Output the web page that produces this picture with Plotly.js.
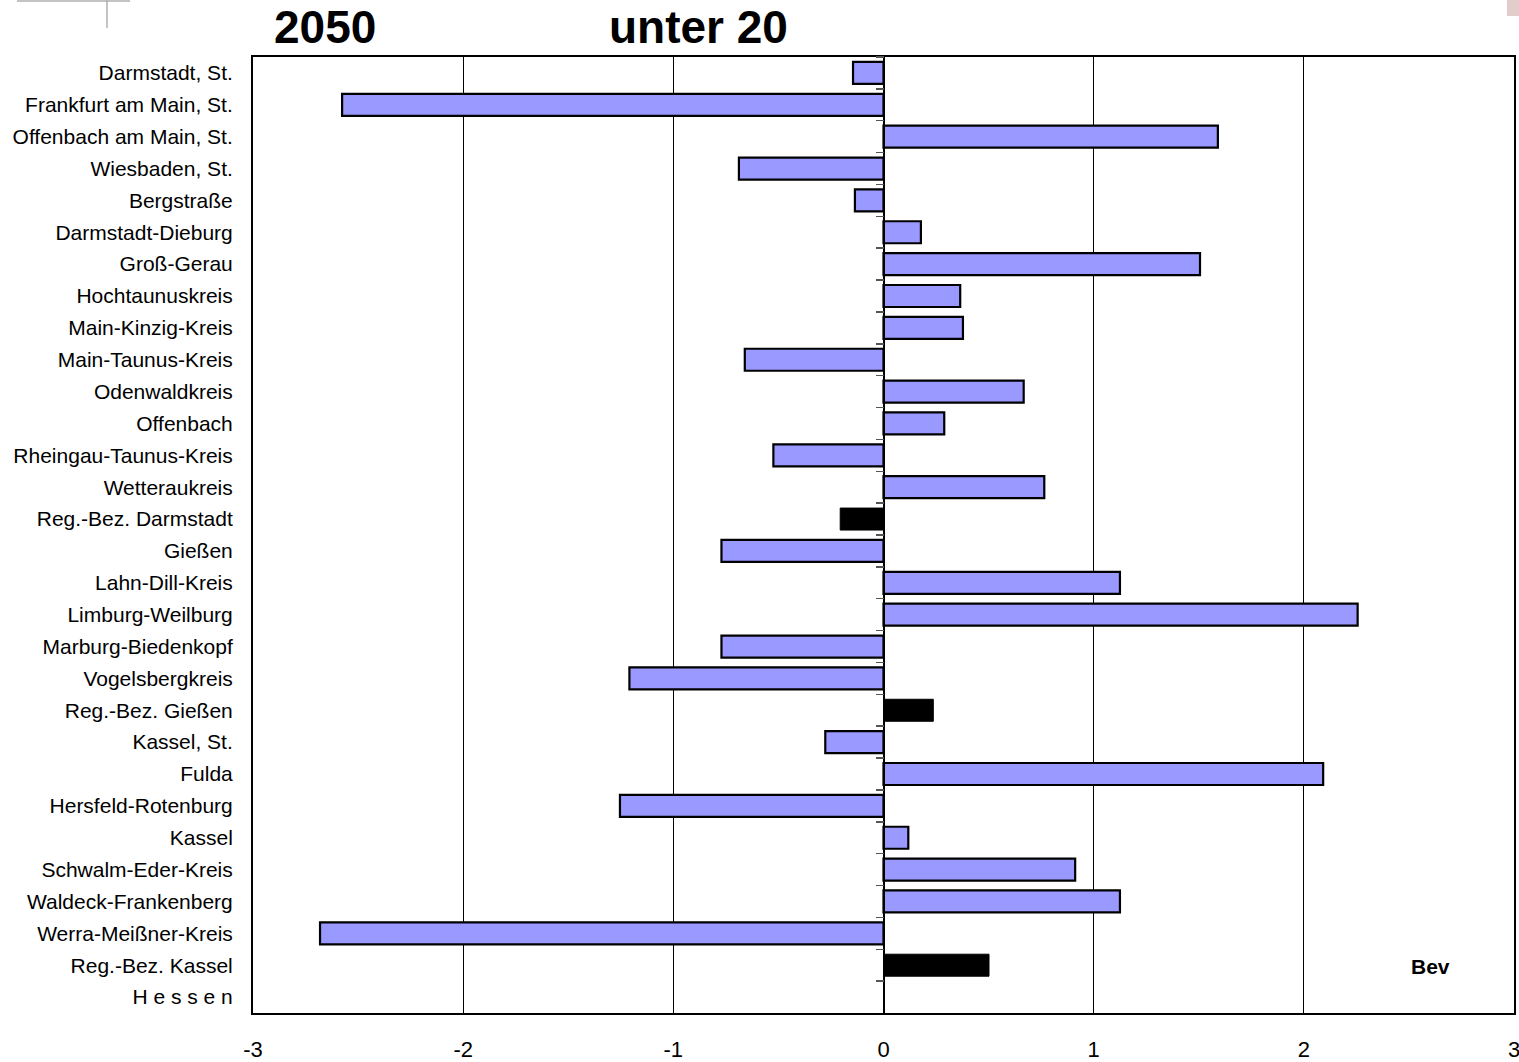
<!DOCTYPE html>
<html>
<head>
<meta charset="utf-8">
<script src="https://cdn.plot.ly/plotly-3.0.1.min.js"></script>
<style>
  html, body { margin: 0; padding: 0; background: #fff; }
  #chart { width: 1519px; height: 1062px; }
</style>
</head>
<body>
<div id="chart"></div>
<script>
// ---- data ----
const categories = [
  "Darmstadt, St.", "Frankfurt am Main, St.", "Offenbach am Main, St.", "Wiesbaden, St.",
  "Bergstraße", "Darmstadt-Dieburg", "Groß-Gerau", "Hochtaunuskreis", "Main-Kinzig-Kreis",
  "Main-Taunus-Kreis", "Odenwaldkreis", "Offenbach", "Rheingau-Taunus-Kreis", "Wetteraukreis",
  "Reg.-Bez. Darmstadt", "Gießen", "Lahn-Dill-Kreis", "Limburg-Weilburg", "Marburg-Biedenkopf",
  "Vogelsbergkreis", "Reg.-Bez. Gießen", "Kassel, St.", "Fulda", "Hersfeld-Rotenburg", "Kassel",
  "Schwalm-Eder-Kreis", "Waldeck-Frankenberg", "Werra-Meißner-Kreis", "Reg.-Bez. Kassel",
  "H e s s e n"
];
// district values (null for regional totals)
const kreisValues = [
  -0.145, -2.576, 1.591, -0.688,
  -0.136, 0.178, 1.506, 0.365, 0.378,
  -0.660, 0.667, 0.289, -0.524, 0.765,
  null, -0.771, 1.125, 2.256, -0.771,
  -1.209, null, -0.277, 2.092, -1.254, 0.118,
  0.912, 1.125, -2.681, null,
  null
];
// regional totals (Reg.-Bez.), null otherwise
const regBezValues = [
  null, null, null, null,
  null, null, null, null, null,
  null, null, null, null, null,
  -0.206, null, null, null, null,
  null, 0.237, null, null, null, null,
  null, null, null, 0.502,
  null
];
const xTicks = [-3, -2, -1, 0, 1, 2, 3];
const titleYear = "2050";
const titleGroup = "unter 20";
const cornerLabel = "Bev";

// ---- chart ----
const FONT = "Liberation Sans, Arial, sans-serif";

const traces = [
  {
    type: "bar", orientation: "h",
    x: kreisValues, y: categories,
    xaxis: "x", yaxis: "y",
    marker: { color: "#9999FF", line: { color: "#000000", width: 2.2 } },
    hoverinfo: "y+x", showlegend: false
  },
  {
    type: "bar", orientation: "h",
    x: regBezValues, y: categories,
    xaxis: "x", yaxis: "y2",
    marker: { color: "#000000", line: { color: "#000000", width: 1 } },
    hoverinfo: "y+x", showlegend: false
  }
];

const layout = {
  width: 1519, height: 1062,
  margin: { l: 253, r: 5, t: 57, b: 49 },
  paper_bgcolor: "#ffffff", plot_bgcolor: "#ffffff",
  font: { family: FONT, color: "#000000" },
  bargap: 0.31,
  showlegend: false,
  xaxis: {
    range: [-3, 3],
    tickvals: xTicks,
    ticktext: xTicks.map(String),
    ticks: "",
    ticklabelstandoff: 16,
    ticklabeloverflow: "allow",
    tickfont: { family: FONT, size: 22, color: "#000" },
    showgrid: true, gridcolor: "#000000", gridwidth: 1,
    zeroline: false,
    showline: true, mirror: true, linecolor: "#000000", linewidth: 2,
    fixedrange: true
  },
  yaxis: {
    type: "category",
    categoryorder: "array", categoryarray: categories,
    range: [categories.length - 0.5, -0.5],
    ticks: "",
    ticklabelstandoff: 14,
    tickfont: { family: FONT, size: 21, color: "#000" },
    showgrid: false, zeroline: false,
    showline: true, mirror: true, linecolor: "#000000", linewidth: 2,
    fixedrange: true
  },
  yaxis2: {
    type: "category",
    categoryorder: "array", categoryarray: categories,
    range: [categories.length - 0.5, -0.5],
    overlaying: "y", anchor: "free", position: 0.5, side: "left",
    tickson: "boundaries",
    ticks: "outside", ticklen: 8, tickwidth: 1.5, tickcolor: "#555555",
    showticklabels: false,
    showgrid: false, zeroline: false,
    showline: true, linecolor: "#000000", linewidth: 1,
    fixedrange: true
  },
  annotations: [
    { text: "<b>" + titleYear + "</b>", xref: "paper", yref: "paper",
      x: 0.0571, y: 1.031, xanchor: "center", yanchor: "middle", showarrow: false,
      font: { family: FONT, size: 46, color: "#000" } },
    { text: "<b>" + titleGroup + "</b>", xref: "paper", yref: "paper",
      x: 0.3533, y: 1.031, xanchor: "center", yanchor: "middle", showarrow: false,
      font: { family: FONT, size: 46, color: "#000" } },
    { text: "<b>" + cornerLabel + "</b>", xref: "paper", yref: "paper",
      x: 0.934, y: 0.049, xanchor: "center", yanchor: "middle", showarrow: false,
      font: { family: FONT, size: 21, color: "#000" } }
  ],
  shapes: [
    { type: "line", xref: "paper", yref: "paper", x0: -0.1872, x1: -0.0975, y0: 1.0585, y1: 1.0585,
      line: { color: "#b0b0b0", width: 1.5 } },
    { type: "line", xref: "paper", yref: "paper", x0: -0.1158, x1: -0.1158, y0: 1.0596, y1: 1.0303,
      line: { color: "#b0b0b0", width: 1.5 } },
    { type: "rect", xref: "paper", yref: "paper", x0: 0.9944, x1: 1.004, y0: 1.0596, y1: 1.0429,
      line: { width: 0 }, fillcolor: "#e3cccc" }
  ]
};

Plotly.newPlot("chart", traces, layout, { displayModeBar: false, staticPlot: true });
</script>
</body>
</html>
